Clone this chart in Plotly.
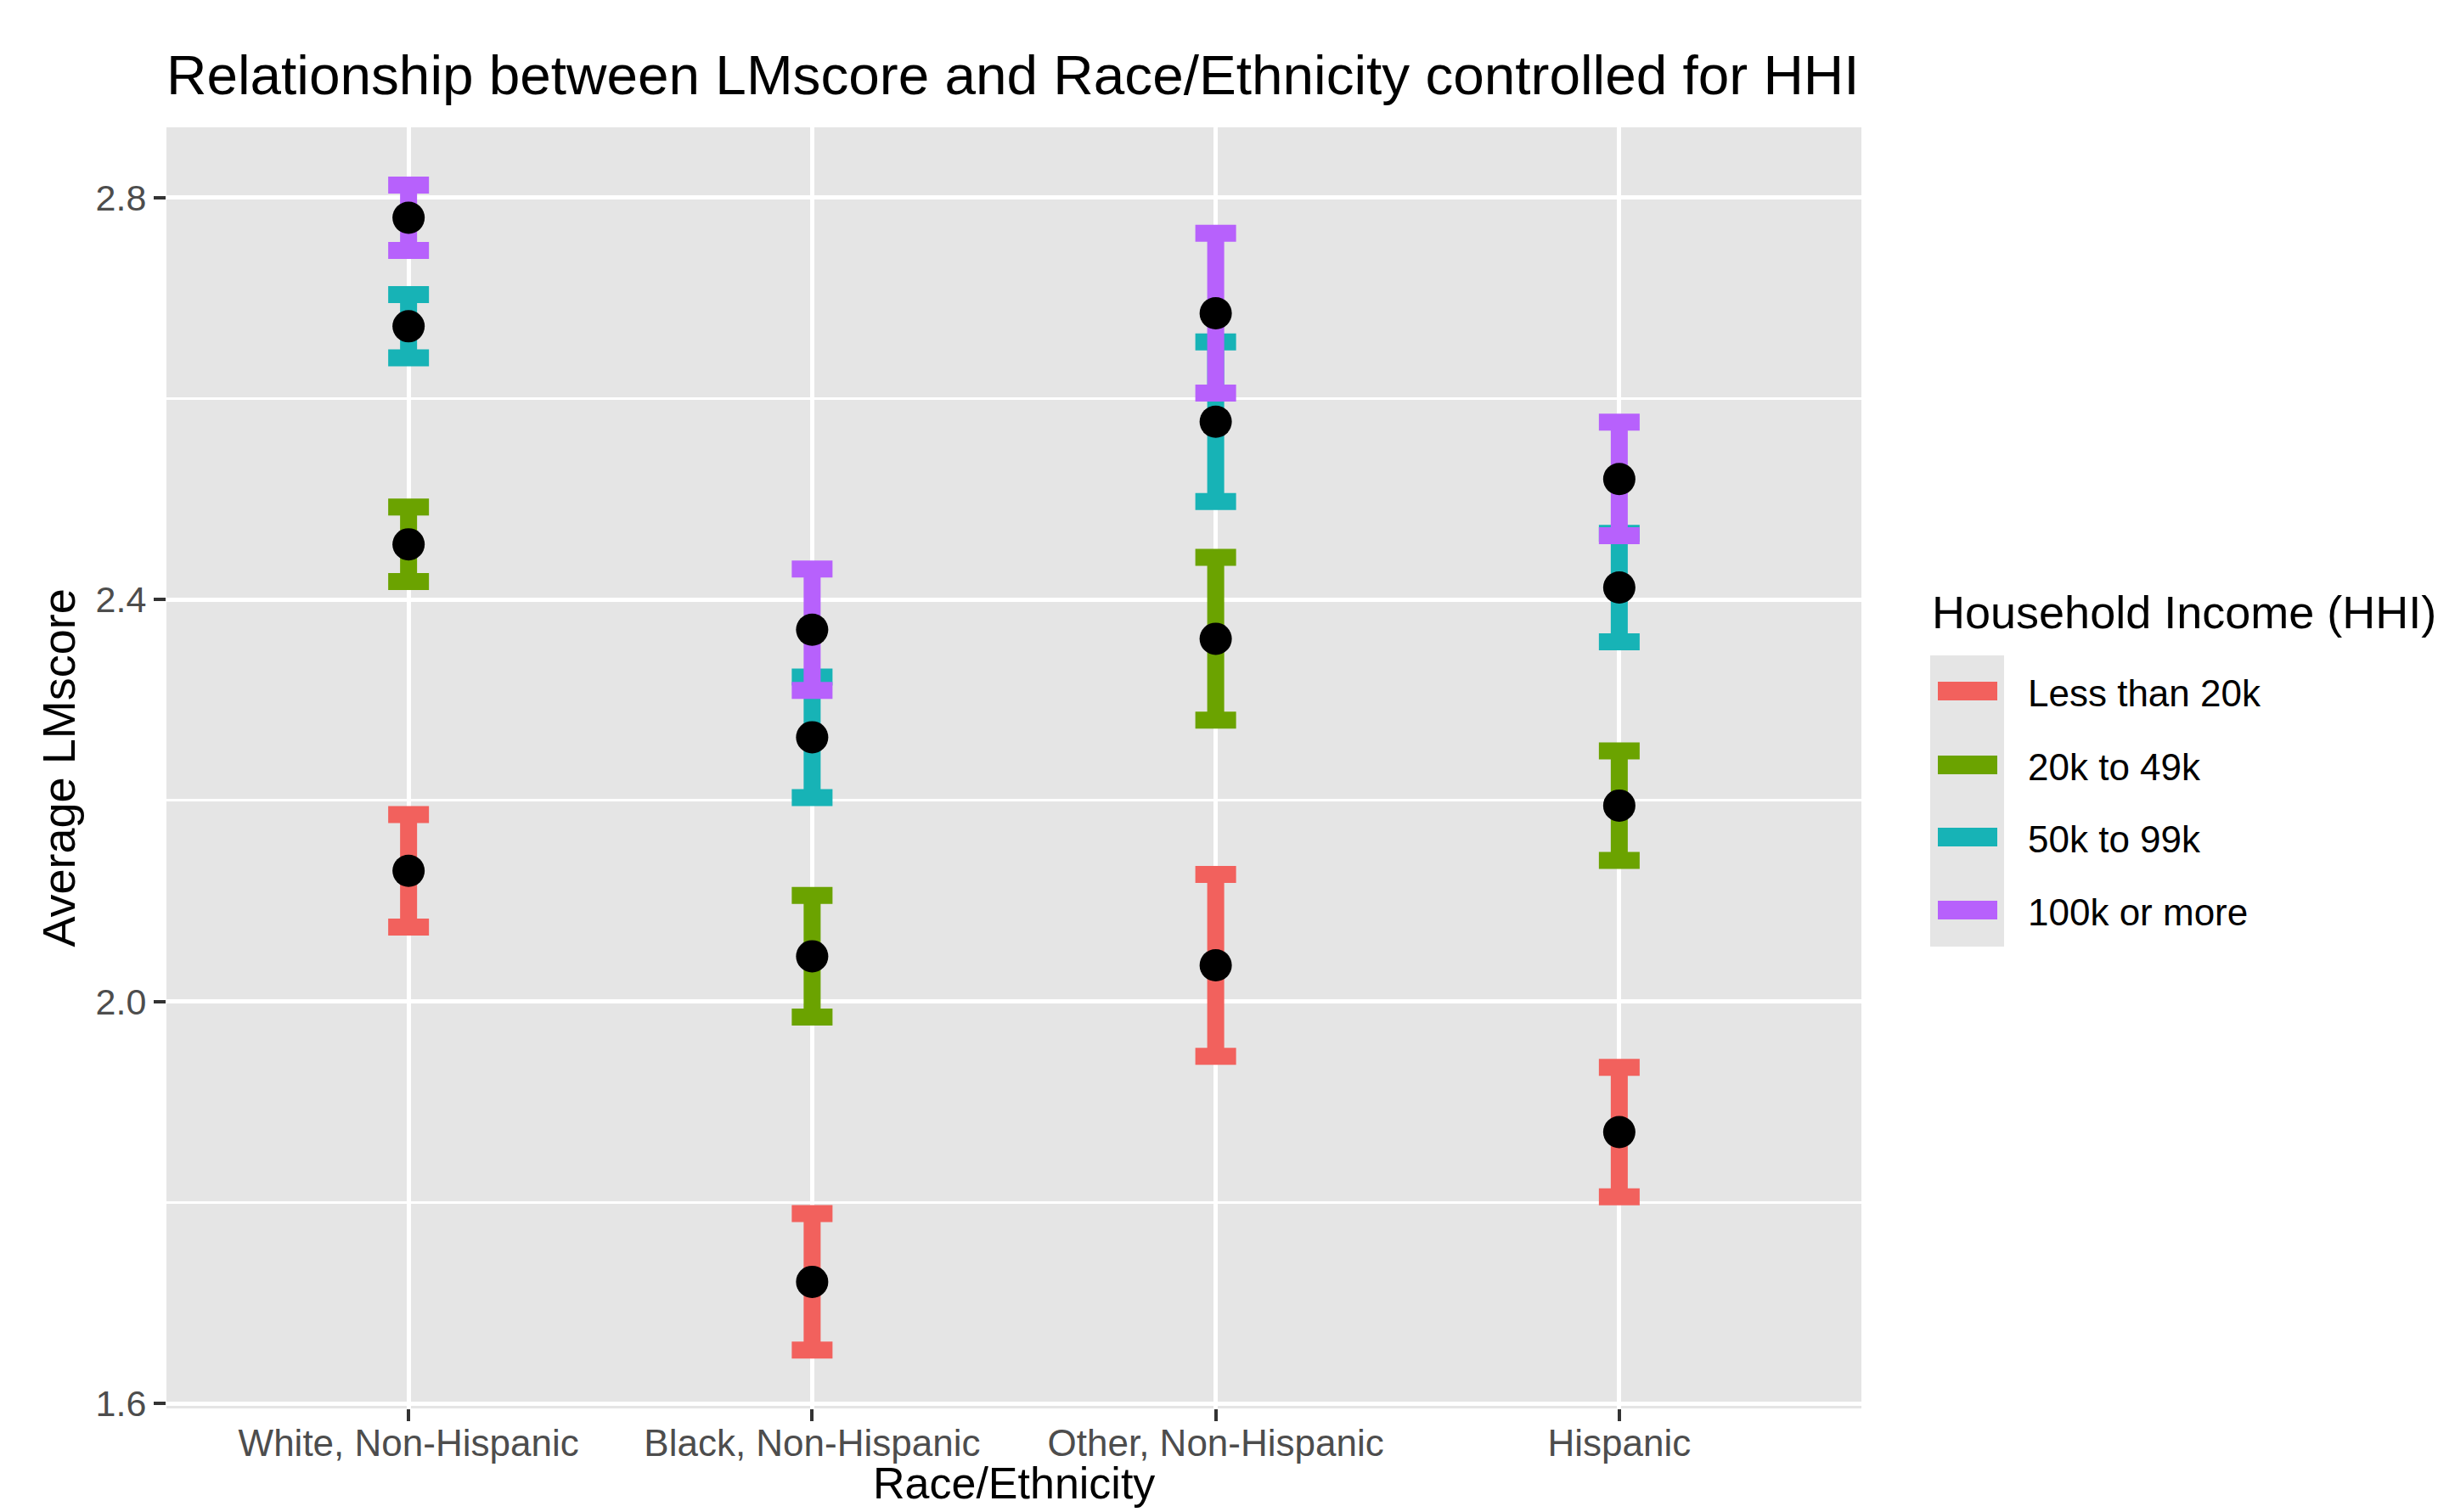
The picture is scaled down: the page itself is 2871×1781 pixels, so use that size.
import plotly.graph_objects as go

# ---------------- data ----------------
categories = ["White, Non-Hispanic", "Black, Non-Hispanic", "Other, Non-Hispanic", "Hispanic"]
income_groups = ["Less than 20k", "20k to 49k", "50k to 99k", "100k or more"]

mean_lt20k = [2.130, 1.721, 2.036, 1.870]
mean_20_49k = [2.455, 2.045, 2.361, 2.195]
mean_50_99k = [2.672, 2.263, 2.577, 2.412]
mean_100k_plus = [2.780, 2.370, 2.685, 2.520]

err_lt20k = [0.056, 0.068, 0.0905, 0.0645]
err_20_49k = [0.037, 0.0605, 0.081, 0.0545]
err_50_99k = [0.0315, 0.060, 0.0795, 0.054]
err_100k_plus = [0.0325, 0.0605, 0.0795, 0.0565]

y_ticks = [1.6, 2.0, 2.4, 2.8]
y_minor = [1.8, 2.2, 2.6]

colors = ["#F2615D", "#6BA300", "#17B3B6", "#B761FC"]

means = [mean_lt20k, mean_20_49k, mean_50_99k, mean_100k_plus]
errs = [err_lt20k, err_20_49k, err_50_99k, err_100k_plus]

# ---------------- layout geometry (pixels) ----------------
W, H = 2871, 1781
L, R, T, B = 196, 2192, 150, 1659
FONT = "Liberation Sans, Arial, Helvetica, sans-serif"


def xp(px):
    return (px - L) / (R - L)


def yp(py):
    return (B - py) / (B - T)


fig = go.Figure()

# error bars (one trace per income group)
for name, m, e, c in zip(income_groups, means, errs, colors):
    fig.add_trace(go.Scatter(
        x=categories, y=m, mode="markers", name=name,
        marker=dict(size=1, color="rgba(0,0,0,0)"),
        error_y=dict(type="data", array=e, symmetric=True, color=c,
                     thickness=20, width=24),
        showlegend=False,
    ))

# black mean points on top
for name, m in zip(income_groups, means):
    fig.add_trace(go.Scatter(
        x=categories, y=m, mode="markers", name=name,
        marker=dict(size=38, color="black", line=dict(width=0)),
        showlegend=False,
    ))

# ---------------- manual legend (ggplot style) ----------------
shapes = []
annotations = []
shapes.append(dict(type="rect", xref="paper", yref="paper",
                   x0=xp(2273), x1=xp(2360), y0=yp(1115), y1=yp(772),
                   fillcolor="#E5E5E5", line=dict(width=0), layer="above"))
key_centers = [814, 901, 986, 1072]
for name, c, cy in zip(income_groups, colors, key_centers):
    shapes.append(dict(type="rect", xref="paper", yref="paper",
                       x0=xp(2282), x1=xp(2352), y0=yp(cy + 11), y1=yp(cy - 11),
                       fillcolor=c, line=dict(width=0), layer="above"))
    annotations.append(dict(text=name, xref="paper", yref="paper",
                            x=xp(2386), y=yp(cy + 2), xanchor="left", yanchor="middle",
                            showarrow=False, font=dict(family=FONT, size=44, color="black")))
annotations.append(dict(text="Household Income (HHI)", xref="paper", yref="paper",
                        x=xp(2273), y=yp(721), xanchor="left", yanchor="middle",
                        showarrow=False, font=dict(family=FONT, size=54, color="black")))

# axis titles
annotations.append(dict(text="Race/Ethnicity", xref="paper", yref="paper",
                        x=0.5, y=yp(1747), xanchor="center", yanchor="middle",
                        showarrow=False, font=dict(family=FONT, size=52, color="black")))
annotations.append(dict(text="Average LMscore", xref="paper", yref="paper",
                        x=xp(68), y=0.5, xanchor="center", yanchor="middle",
                        textangle=-90,
                        showarrow=False, font=dict(family=FONT, size=54, color="black")))

fig.update_layout(
    width=W, height=H,
    margin=dict(l=L, r=W - R, t=T, b=H - B, autoexpand=False),
    paper_bgcolor="white",
    plot_bgcolor="#E5E5E5",
    font=dict(family=FONT, color="black"),
    title=dict(text="Relationship between LMscore and Race/Ethnicity controlled for HHI",
               x=0, xref="paper", xanchor="left",
               y=1 - 88 / H, yref="container", yanchor="middle",
               font=dict(family=FONT, size=65.7, color="black")),
    showlegend=False,
    shapes=shapes,
    annotations=annotations,
)

fig.update_xaxes(
    type="category", categoryorder="array", categoryarray=categories,
    range=[-0.6, 3.6],
    showgrid=True, gridcolor="white", gridwidth=5,
    zeroline=False, showline=False,
    ticks="outside", ticklen=14, tickwidth=4, tickcolor="#333333",
    ticklabelstandoff=-12,
    tickfont=dict(family=FONT, size=44, color="#4D4D4D"),
)
fig.update_yaxes(
    range=[1.595, 2.870],
    tickvals=y_ticks, tickformat=".1f",
    showgrid=True, gridcolor="white", gridwidth=5,
    minor=dict(tickvals=y_minor, showgrid=True, gridcolor="white", gridwidth=2.5, ticks=""),
    zeroline=False, showline=False,
    ticks="outside", ticklen=14, tickwidth=4, tickcolor="#333333",
    tickfont=dict(family=FONT, size=43, color="#4D4D4D"),
)

fig.write_html("out.html",
               config={"displayModeBar": False},
               post_script="document.body.style.margin='0';document.body.style.overflow='hidden';")
